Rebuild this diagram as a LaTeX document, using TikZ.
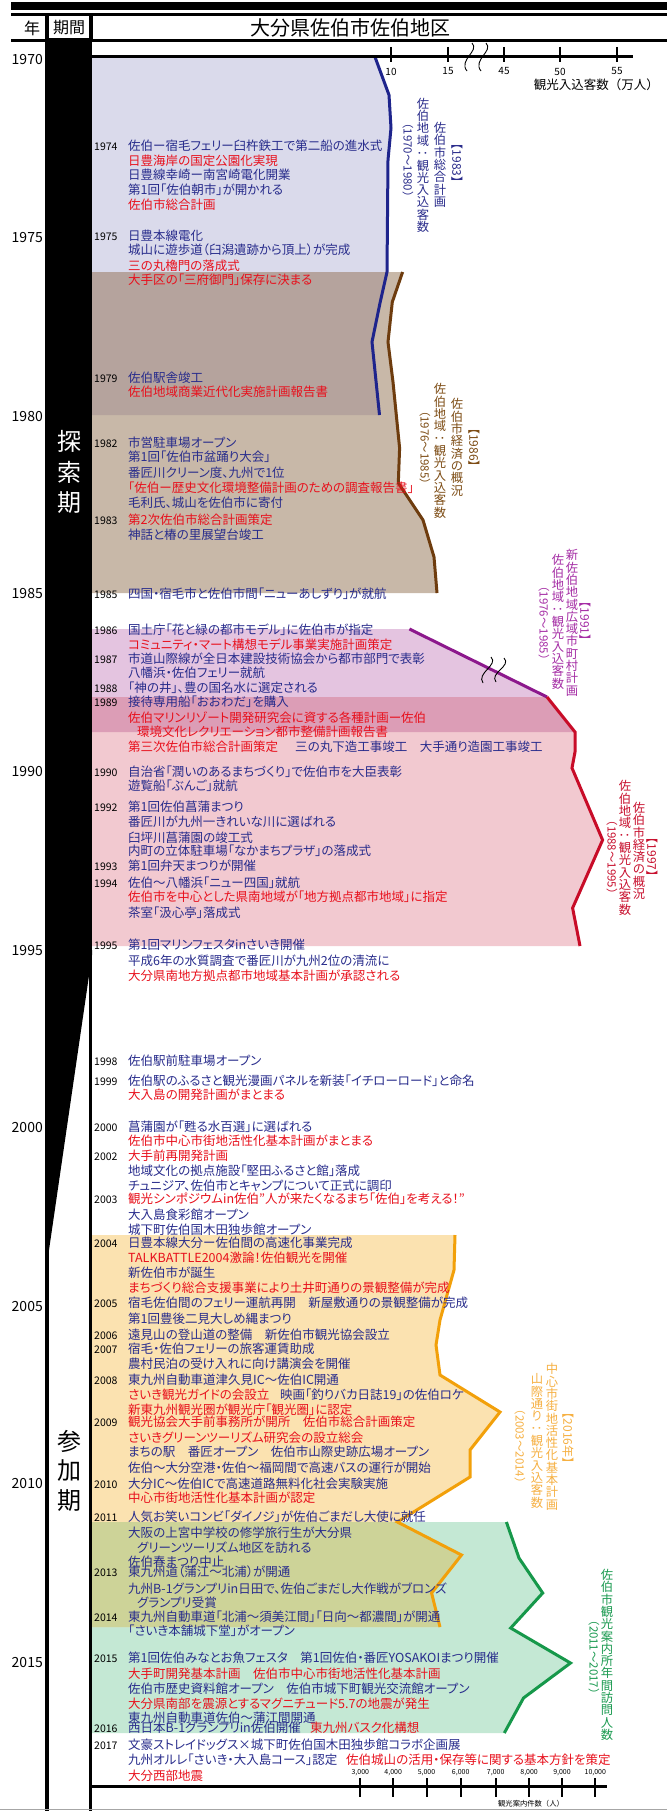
\documentclass[tikz,border=0pt]{standalone}
\usepackage{fontspec}
\usepackage{graphicx}
\setmainfont{Noto Sans CJK JP}
\newfontfamily\jp[RawFeature=+palt]{Noto Sans CJK JP}
\newfontfamily\jpm{Noto Sans CJK JP}
\definecolor{evblue}{RGB}{40,44,140}
\definecolor{evred}{RGB}{232,16,28}
\definecolor{fLav}{RGB}{218,218,235}
\definecolor{fTan}{RGB}{200,184,168}
\definecolor{fLT}{RGB}{181,163,157}
\definecolor{fPur}{RGB}{228,196,224}
\definecolor{fPk}{RGB}{242,201,208}
\definecolor{fPP}{RGB}{220,157,182}
\definecolor{fOr}{RGB}{251,226,176}
\definecolor{fGr}{RGB}{196,232,212}
\definecolor{fOl}{RGB}{205,211,152}
\definecolor{lBlue}{RGB}{30,36,140}
\definecolor{lBrown}{RGB}{110,60,14}
\definecolor{lPur}{RGB}{140,24,140}
\definecolor{lRed}{RGB}{200,12,40}
\definecolor{lOr}{RGB}{242,160,10}
\definecolor{lGr}{RGB}{22,152,74}
\definecolor{tA}{RGB}{43,45,140}
\definecolor{tB}{RGB}{125,76,20}
\definecolor{tC}{RGB}{165,45,165}
\definecolor{tD}{RGB}{200,16,46}
\definecolor{tE}{RGB}{246,176,66}
\definecolor{tF}{RGB}{26,154,80}
\makeatletter
\newcommand\vstk[1]{\vbox{\offinterlineskip\@tfor\vch:=#1\do{\hbox to 12.3pt{\hss\vrule height 10.6pt depth 1.7pt width 0pt\vch\hss}}}}
\makeatother
\newcommand\vcolon{\rotatebox[origin=c]{90}{：}}
\tikzset{
  ev/.style={anchor=west,inner sep=0pt,font=\jp\fontsize{12.5}{14}\selectfont,text height=11pt,text depth=1.5pt},
  bl/.style={text=evblue},
  rd/.style={text=evred},
  yr/.style={anchor=west,inner sep=0pt,font=\jpm\fontsize{10.5}{12}\selectfont,text height=11pt,text depth=1.5pt},
  yl/.style={anchor=east,inner sep=0pt,font=\jpm\fontsize{14}{14}\selectfont},
  vbr/.style={rotate=-90,inner sep=0pt,font=\jp\fontsize{12}{12}\selectfont},
  vpar/.style={rotate=-90,inner sep=0pt,font=\jpm\fontsize{11.4}{12}\selectfont},
  vcol/.style={inner sep=0pt,font=\jpm\fontsize{12.3}{12.3}\selectfont},
  pd/.style={inner sep=0pt,font=\jpm\fontsize{24}{24}\selectfont},
  tk/.style={inner sep=0pt,font=\jpm\fontsize{10}{10}\selectfont},
  btk/.style={inner sep=0pt,font=\jpm\fontsize{7}{7}\selectfont},
  brk/.style={black,line width=0.9pt}
}
\begin{document}
\begin{tikzpicture}[x=1pt,y=-1pt]
\useasboundingbox (0,0) rectangle (667,1811);
\fill[white] (0,0) rectangle (667,1811);
% ---------- region fills
\fill[fLav] (92,57) -- (375,57) -- (389,95) -- (391,128) -- (388,160) -- (387,272) -- (380,303) -- (372,342) -- (379.5,415) -- (92,415) -- cycle;
\fill[fTan] (92,272) -- (402.6,272) -- (392.3,302) -- (388,342) -- (393,382) -- (399.6,448) -- (398.3,483) -- (423,520) -- (434,557) -- (437,593) -- (92,593) -- cycle;
\fill[fLT] (92,272) -- (387,272) -- (380,303) -- (372,342) -- (379.5,415) -- (92,415) -- cycle;
\fill[fPur] (92,629) -- (409.4,629) -- (547,697) -- (575,732) -- (92,732) -- cycle;
\fill[fPk] (92,697) -- (547,697) -- (575,732) -- (575,752) -- (572,768) -- (602.6,840) -- (572.6,908) -- (580,946) -- (92,946) -- cycle;
\fill[fPP] (92,697) -- (547,697) -- (575,732) -- (92,732) -- cycle;
\fill[fGr] (92,1522) -- (506.4,1522) -- (519,1558) -- (542.7,1593) -- (510.7,1628) -- (570.5,1663) -- (523.5,1698) -- (504.3,1733) -- (92,1733) -- cycle;
\fill[fOr] (92,1235) -- (455,1235) -- (454,1270) -- (440,1320) -- (436,1345) -- (440,1375) -- (500,1412) -- (470,1450) -- (470,1477) -- (397.4,1522) -- (461.5,1555) -- (431.6,1593) -- (440,1627) -- (92,1627) -- cycle;
\fill[fOl] (92,1522) -- (397.4,1522) -- (461.5,1555) -- (431.6,1593) -- (440,1627) -- (92,1627) -- cycle;
% ---------- data lines
\draw[lBlue,line width=3pt] (375,57) -- (389,95) -- (391,128) -- (388,160) -- (387,272) -- (380,303) -- (372,342) -- (379.5,415);
\draw[lBrown,line width=3pt] (402.6,272) -- (392.3,302) -- (388,342) -- (393,382) -- (399.6,448) -- (398.3,483) -- (423,520) -- (434,557) -- (437,593);
\draw[lPur,line width=3pt] (409.4,629) -- (547,697);
\draw[lRed,line width=3pt] (547,697) -- (575,732) -- (575,752) -- (572,768) -- (602.6,840) -- (572.6,908) -- (580,946);
\draw[lOr,line width=3pt] (455,1235) -- (454,1270) -- (440,1320) -- (436,1345) -- (440,1375) -- (500,1412) -- (470,1450) -- (470,1477) -- (397.4,1522) -- (461.5,1555) -- (431.6,1593) -- (440,1627);
\draw[lGr,line width=3pt] (506.4,1522) -- (519,1558) -- (542.7,1593) -- (510.7,1628) -- (570.5,1663) -- (523.5,1698) -- (504.3,1733);
% break marks
\draw[brk] (472,43) .. controls (480,51) and (458,60) .. (467,71);
\draw[brk] (486,43) .. controls (494,51) and (472,60) .. (481,71);
\draw[brk] (491,657) .. controls (499,665) and (476,673) .. (483,683);
\draw[brk] (504,658) .. controls (512,666) and (489,673) .. (496,682);
% ---------- header and frame
\fill[black] (11,2) rectangle (667,10);
\fill[black] (11,13.5) rectangle (667,15.7);
\fill[black] (11,39) rectangle (667,42);
\fill[black] (45,14) rectangle (93,42);
\fill[white] (49,16.5) rectangle (88.5,38.5);
\node[inner sep=0pt,font=\jpm\fontsize{16}{16}\selectfont] (hyear) at (32,28) {年};
\node[inner sep=0pt,font=\jpm\fontsize{16}{16}\selectfont] (hper) at (69,27.5) {期間};
\node[inner sep=0pt,font=\jpm\fontsize{20}{20}\selectfont] (htitle) at (350,28) {大分県佐伯市佐伯地区};
% period column
\fill[black] (45,42) rectangle (92,952);
\fill[black] (45,950) -- (92,950) -- (92,955) -- (49,1250) -- (45,1250) -- cycle;
\fill[black] (89,950) rectangle (92,1811);
\fill[black] (45,1245) rectangle (49,1811);
\node[pd,text=white] (p1) at (69,441) {探};
\node[pd,text=white] (p2) at (69,472) {索};
\node[pd,text=white] (p3) at (69,503) {期};
\node[pd] (p4) at (69,1441) {参};
\node[pd] (p5) at (69,1471) {加};
\node[pd] (p6) at (69,1501) {期};
% top axis
\draw[black,line width=3pt] (92,56.7) -- (633,56.7);
\foreach \tx/\tl in {391/10,448/15,504/45,560/50,617/55}{
  \draw[black,line width=2.5pt] (\tx,47) -- (\tx,62);
  \node[tk] (tk\tl) at (\tx,71.5) {\tl};
}
\node[anchor=east,inner sep=0pt,font=\jpm\fontsize{12.5}{12.5}\selectfont] (taxis) at (659,85) {観光入込客数（万人）};
% bottom axis
\draw[black,line width=3pt] (92,1786.7) -- (607,1786.7);
\foreach \tx/\tl in {360.3/{3,000},393.2/{4,000},426.5/{5,000},460.7/{6,000},495.7/{7,000},529.1/{8,000},562/{9,000},595.3/{10,000}}{
  \draw[black,line width=2pt] (\tx,1778) -- (\tx,1797);
  \node[btk] at (\tx,1773) {\tl};
}
\node[inner sep=0pt,font=\jpm\fontsize{7.3}{7.3}\selectfont] (baxis) at (531,1804) {観光案内件数（人）};
\draw[black!35,line width=1pt] (0,1809.5) -- (667,1809.5);
% big year labels
\node[yl] (y1970) at (43,60) {1970};
\node[yl] (y1975) at (43,238) {1975};
\node[yl] (y1980) at (43,417) {1980};
\node[yl] (y1985) at (43,594) {1985};
\node[yl] (y1990) at (43,772) {1990};
\node[yl] (y1995) at (43,950) {1995};
\node[yl] (y2000) at (43,1127) {2000};
\node[yl] (y2005) at (43,1306) {2005};
\node[yl] (y2010) at (43,1483) {2010};
\node[yl] (y2015) at (43,1662) {2015};
% ---------- events
\node[yr] (r1974) at (94,145.7) {1974};
\node[ev,bl] (e01) at (128,145.7) {佐伯ー宿毛フェリー臼杵鉄工で第二船の進水式};
\node[ev,rd] (e02) at (128,161) {日豊海岸の国定公園化実現};
\node[ev,bl] (e03) at (128,175) {日豊線幸崎ー南宮崎電化開業};
\node[ev,bl] (e04) at (128,190) {第1回「佐伯朝市」が開かれる};
\node[ev,rd] (e05) at (128,205) {佐伯市総合計画};
\node[yr] (r1975) at (94,235.7) {1975};
\node[ev,bl] (e06) at (128,235.7) {日豊本線電化};
\node[ev,bl] (e07) at (128,250) {城山に遊歩道（臼潟遺跡から頂上）が完成};
\node[ev,rd] (e08) at (128,265.7) {三の丸櫓門の落成式};
\node[ev,rd] (e09) at (128,279.3) {大手区の「三府御門」保存に決まる};
\node[yr] (r1979) at (94,377.3) {1979};
\node[ev,bl] (e10) at (128,377.3) {佐伯駅舎竣工};
\node[ev,rd] (e11) at (128,391.7) {佐伯地域商業近代化実施計画報告書};
\node[yr] (r1982) at (94,442.7) {1982};
\node[ev,bl] (e12) at (128,442.7) {市営駐車場オープン};
\node[ev,bl] (e13) at (128,456.7) {第1回「佐伯市盆踊り大会」};
\node[ev,bl] (e14) at (128,472.7) {番匠川クリーン度、九州で1位};
\node[ev,rd] (e15) at (128,487.7) {「佐伯ー歴史文化環境整備計画のための調査報告書」};
\node[ev,bl] (e16) at (128,502.3) {毛利氏、城山を佐伯市に寄付};
\node[yr] (r1983) at (94,520) {1983};
\node[ev,rd] (e17) at (128,520) {第2次佐伯市総合計画策定};
\node[ev,bl] (e18) at (128,534.3) {神話と椿の里展望台竣工};
\node[yr] (r1985) at (94,593.3) {1985};
\node[ev,bl] (e19) at (128,593.3) {四国・宿毛市と佐伯市間「ニューあしずり」が就航};
\node[yr] (r1986) at (94,630) {1986};
\node[ev,bl] (e20) at (128,630) {国土庁「花と緑の都市モデル」に佐伯市が指定};
\node[ev,rd] (e21) at (128,644.3) {コミュニティ・マート構想モデル事業実施計画策定};
\node[yr] (r1987) at (94,658.3) {1987};
\node[ev,bl] (e22) at (128,658.3) {市道山際線が全日本建設技術協会から都市部門で表彰};
\node[ev,bl] (e23) at (128,672.7) {八幡浜・佐伯フェリー就航};
\node[yr] (r1988) at (94,687.3) {1988};
\node[ev,bl] (e24) at (128,687.3) {「神の井」、豊の国名水に選定される};
\node[yr] (r1989) at (94,701.7) {1989};
\node[ev,bl] (e25) at (128,701.7) {接待専用船「おおわだ」を購入};
\node[ev,rd] (e26) at (128,717.3) {佐伯マリンリゾート開発研究会に資する各種計画ー佐伯};
\node[ev,rd] (e27) at (137,731.7) {環境文化レクリエーション都市整備計画報告書};
\node[ev,rd] (e28) at (128,746.7) {第三次佐伯市総合計画策定};
\node[ev,bl] (e28b) at (295,746.7) {三の丸下造工事竣工　大手通り造園工事竣工};
\node[yr] (r1990) at (94,771.7) {1990};
\node[ev,bl] (e29) at (128,771.7) {自治省「潤いのあるまちづくり」で佐伯市を大臣表彰};
\node[ev,bl] (e30) at (128,786) {遊覧船「ぶんご」就航};
\node[yr] (r1992) at (94,806.7) {1992};
\node[ev,bl] (e31) at (128,806.7) {第1回佐伯菖蒲まつり};
\node[ev,bl] (e32) at (128,821.7) {番匠川が九州一きれいな川に選ばれる};
\node[ev,bl] (e33) at (128,837.3) {臼坪川菖蒲園の竣工式};
\node[ev,bl] (e34) at (128,850.7) {内町の立体駐車場「なかまちプラザ」の落成式};
\node[yr] (r1993) at (94,865.7) {1993};
\node[ev,bl] (e35) at (128,865.7) {第1回弁天まつりが開催};
\node[yr] (r1994) at (94,882.7) {1994};
\node[ev,bl] (e36) at (128,882.7) {佐伯〜八幡浜「ニュー四国」就航};
\node[ev,rd] (e37) at (128,896.7) {佐伯市を中心とした県南地域が「地方拠点都市地域」に指定};
\node[ev,bl] (e38) at (128,912.7) {茶室「汲心亭」落成式};
\node[yr] (r1995) at (94,944.3) {1995};
\node[ev,bl] (e39) at (128,944.3) {第1回マリンフェスタinさいき開催};
\node[ev,bl] (e40) at (128,961) {平成6年の水質調査で番匠川が九州2位の清流に};
\node[ev,rd] (e41) at (128,975.7) {大分県南地方拠点都市地域基本計画が承認される};
\node[yr] (r1998) at (94,1060.7) {1998};
\node[ev,bl] (e42) at (128,1060.7) {佐伯駅前駐車場オープン};
\node[yr] (r1999) at (94,1080.7) {1999};
\node[ev,bl] (e43) at (128,1080.7) {佐伯駅のふるさと観光漫画パネルを新装「イチローロード」と命名};
\node[ev,rd] (e44) at (128,1095) {大入島の開発計画がまとまる};
\node[yr] (r2000) at (94,1126.7) {2000};
\node[ev,bl] (e45) at (128,1126.7) {菖蒲園が「甦る水百選」に選ばれる};
\node[ev,rd] (e46) at (128,1140.7) {佐伯市中心市街地活性化基本計画がまとまる};
\node[yr] (r2002) at (94,1156) {2002};
\node[ev,rd] (e47) at (128,1156) {大手前再開発計画};
\node[ev,bl] (e48) at (128,1170.7) {地域文化の拠点施設「堅田ふるさと館」落成};
\node[ev,bl] (e49) at (128,1185.7) {チュニジア、佐伯市とキャンプについて正式に調印};
\node[yr] (r2003) at (94,1198.3) {2003};
\node[ev,rd] (e50) at (128,1198.3) {観光シンポジウムin佐伯”人が来たくなるまち「佐伯」を考える！”};
\node[ev,bl] (e51) at (128,1215) {大入島食彩館オープン};
\node[ev,bl] (e52) at (128,1230) {城下町佐伯国木田独歩館オープン};
\node[yr] (r2004) at (94,1242.7) {2004};
\node[ev,bl] (e53) at (128,1242.7) {日豊本線大分ー佐伯間の高速化事業完成};
\node[ev,rd] (e54) at (128,1257.3) {TALKBATTLE2004激論！佐伯観光を開催};
\node[ev,bl] (e55) at (128,1272.3) {新佐伯市が誕生};
\node[ev,rd] (e56) at (128,1287.3) {まちづくり総合支援事業により土井町通りの景観整備が完成};
\node[yr] (r2005) at (94,1302.3) {2005};
\node[ev,bl] (e57) at (128,1302.3) {宿毛佐伯間のフェリー運航再開　新屋敷通りの景観整備が完成};
\node[ev,bl] (e58) at (128,1318.3) {第1回豊後二見大しめ縄まつり};
\node[yr] (r2006) at (94,1334.3) {2006};
\node[ev,bl] (e59) at (128,1334.3) {遠見山の登山道の整備　新佐伯市観光協会設立};
\node[yr] (r2007) at (94,1348.3) {2007};
\node[ev,bl] (e60) at (128,1348.3) {宿毛・佐伯フェリーの旅客運賃助成};
\node[ev,bl] (e61) at (128,1364) {農村民泊の受け入れに向け講演会を開催};
\node[yr] (r2008) at (94,1379.3) {2008};
\node[ev,bl] (e62) at (128,1379.3) {東九州自動車道津久見IC〜佐伯IC開通};
\node[ev,rd] (e63) at (128,1394.3) {さいき観光ガイドの会設立};
\node[ev,bl] (e63b) at (280,1394.3) {映画「釣りバカ日誌19」の佐伯ロケ};
\node[ev,rd] (e64) at (128,1409.3) {新東九州観光圏が観光庁「観光圏」に認定};
\node[yr] (r2009) at (94,1421.7) {2009};
\node[ev,rd] (e65) at (128,1421.7) {観光協会大手前事務所が開所　佐伯市総合計画策定};
\node[ev,rd] (e66) at (128,1437.3) {さいきグリーンツーリズム研究会の設立総会};
\node[ev,bl] (e67) at (128,1451.7) {まちの駅　番匠オープン　佐伯市山際史跡広場オープン};
\node[ev,bl] (e68) at (128,1467.3) {佐伯〜大分空港・佐伯〜福岡間で高速バスの運行が開始};
\node[yr] (r2010) at (94,1483.3) {2010};
\node[ev,bl] (e69) at (128,1483.3) {大分IC〜佐伯ICで高速道路無料化社会実験実施};
\node[ev,rd] (e70) at (128,1497.3) {中心市街地活性化基本計画が認定};
\node[yr] (r2011) at (94,1516.7) {2011};
\node[ev,bl] (e71) at (128,1516.7) {人気お笑いコンビ「ダイノジ」が佐伯ごまだし大使に就任};
\node[ev,bl] (e72) at (128,1532.3) {大阪の上宮中学校の修学旅行生が大分県};
\node[ev,bl] (e73) at (137,1547.3) {グリーンツーリズム地区を訪れる};
\node[ev,bl] (e74) at (128,1561.7) {佐伯春まつり中止};
\node[yr] (r2013) at (94,1571.7) {2013};
\node[ev,bl] (e75) at (128,1571.7) {東九州道（蒲江〜北浦）が開通};
\node[ev,bl] (e76) at (128,1588.3) {九州B-1グランプリin日田で、佐伯ごまだし大作戦がブロンズ};
\node[ev,bl] (e77) at (137,1602.7) {グランプリ受賞};
\node[yr] (r2014) at (94,1616.7) {2014};
\node[ev,bl] (e78) at (128,1616.7) {東九州自動車道「北浦〜須美江間」「日向〜都濃間」が開通};
\node[ev,bl] (e79) at (128,1630.7) {「さいき本舗城下堂」がオープン};
\node[yr] (r2015) at (94,1657.3) {2015};
\node[ev,bl] (e80) at (128,1657.3) {第1回佐伯みなとお魚フェスタ　第1回佐伯・番匠YOSAKOIまつり開催};
\node[ev,rd] (e81) at (128,1673.3) {大手町開発基本計画　佐伯市中心市街地活性化基本計画};
\node[ev,bl] (e82) at (128,1688.3) {佐伯市歴史資料館オープン　佐伯市城下町観光交流館オープン};
\node[ev,rd] (e83) at (128,1703.3) {大分県南部を震源とするマグニチュード5.7の地震が発生};
\node[ev,bl] (e84) at (128,1717.7) {東九州自動車道佐伯〜蒲江間開通};
\node[yr] (r2016) at (94,1727.7) {2016};
\node[ev,bl] (e85) at (128,1727.7) {西日本B-1グランプリin佐伯開催};
\node[ev,rd] (e85b) at (310,1727.7) {東九州バスク化構想};
\node[yr] (r2017) at (94,1745) {2017};
\node[ev,bl] (e86) at (128,1745) {文豪ストレイドッグス×城下町佐伯国木田独歩館コラボ企画展};
\node[ev,bl] (e87) at (128,1760) {九州オルレ「さいき・大入島コース」認定};
\node[ev,rd] (e87b) at (346,1760) {佐伯城山の活用・保存等に関する基本方針を策定};
\node[ev,rd] (e88) at (128,1776) {大分西部地震};
% ---------- vertical labels
\node[vbr,text=tA] (la1) at (457,163) {【1983】};
\node[vcol,text=tA] (la2) at (440,165) {\vstk{佐伯市総合計画}};
\node[vcol,text=tA] (la3) at (423,165.5) {\vstk{佐伯地域{\vcolon}観光入込客数}};
\node[vpar,text=tA] (la4) at (408,160) {（1970〜1980）};
\node[vbr,text=tB] (lb1) at (474,447.5) {【1986】};
\node[vcol,text=tB] (lb2) at (457,447.5) {\vstk{佐伯市経済の概況}};
\node[vcol,text=tB] (lb3) at (440,451) {\vstk{佐伯地域{\vcolon}観光入込客数}};
\node[vpar,text=tB] (lb4) at (425,447.5) {（1976〜1985）};
\node[vbr,text=tC] (lc1) at (585,621) {【1991】};
\node[vcol,text=tC] (lc2) at (572,623) {\vstk{新佐伯地域広域市町村計画}};
\node[vcol,text=tC] (lc3) at (558,622) {\vstk{佐伯地域{\vcolon}観光入込客数}};
\node[vpar,text=tC] (lc4) at (544,623) {（1976〜1985）};
\node[vbr,text=tD] (ld1) at (652,857) {【1997】};
\node[vcol,text=tD] (ld2) at (639,851) {\vstk{佐伯市経済の概況}};
\node[vcol,text=tD] (ld3) at (625,848) {\vstk{佐伯地域{\vcolon}観光入込客数}};
\node[vpar,text=tD] (ld4) at (612,857) {（1988〜1995）};
\node[vbr,text=tE] (le1) at (568,1438) {【2016年】};
\node[vcol,text=tE] (le2) at (552,1437) {\vstk{中心市街地活性化基本計画}};
\node[vcol,text=tE] (le3) at (537,1441) {\vstk{山際通り{\vcolon}観光入込客数}};
\node[vpar,text=tE] (le4) at (520,1446) {（2003〜2014）};
\node[vcol,text=tF] (lf1) at (607,1655) {\vstk{佐伯市観光案内所年間訪問人数}};
\node[vpar,text=tF] (lf2) at (594,1657) {（2011〜2017）};
\end{tikzpicture}
\end{document}
